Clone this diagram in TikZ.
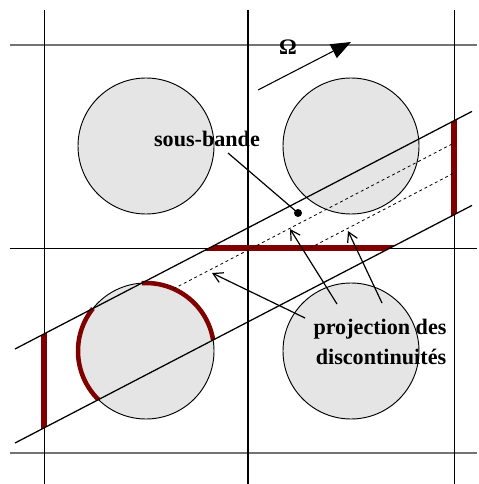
\documentclass[tikz,border=0pt]{standalone}
\usepackage{fontspec}
\setmainfont{Liberation Serif}
\usetikzlibrary{arrows.meta}
\definecolor{darkred}{RGB}{128,0,0}
\definecolor{discfill}{RGB}{229,229,229}
\begin{document}
\begin{tikzpicture}[x=0.75pt,y=-0.75pt,
  gridv/.style={line width=0.75pt,black},
  gridh/.style={line width=0.8pt,black!55},
  gridmid/.style={line width=0.75pt,black},
  disc/.style={fill=discfill,draw=black,line width=0.7pt},
  bandline/.style={line width=0.95pt,black},
  redseg/.style={line width=3.8pt,darkred},
  redarc/.style={line width=3.4pt,darkred},
  proj/.style={line width=0.6pt,dash pattern=on 2.2pt off 2.2pt},
  lab/.style={font=\fontsize{16.6pt}{20pt}\selectfont\bfseries,inner sep=0pt},
  pointer/.style={line width=0.9pt,-{Straight Barb[length=7pt,width=8pt,line width=0.9pt]}},
  omarrow/.style={line width=0.8pt,-{Triangle[length=15pt,width=11.5pt]}}
]
\useasboundingbox (0,0) rectangle (478,484);
% discs
\draw[disc] (146,146) circle[radius=51pt];
\draw[disc] (351,146) circle[radius=51pt];
\draw[disc] (146,351) circle[radius=51pt];
\draw[disc] (351,351) circle[radius=51pt];
% grid
\draw[gridh] (10,45) -- (477,45);
\draw[gridh] (10,453) -- (477,453);
\draw[gridmid] (10,248) -- (477,248);
\draw[gridv] (44,10) -- (44,484);
\draw[gridv] (454,10) -- (454,484);
\draw[line width=1.5pt] (248,10) -- (248,484);
% red discontinuities inside the band
\begin{scope}
  \clip (0,356.8) -- (478,108.24) -- (478,202.24) -- (0,450.8) -- cycle;
  \draw[redseg] (44,300) -- (44,470);
  \draw[redseg] (454,100) -- (454,230);
  \draw[redseg] (150,248) -- (420,248);
\end{scope}
\coordinate (cll) at (146,351);
\draw[redarc] ([shift={(9.3:51pt)}]cll) arc[start angle=9.3,end angle=93.6,radius=51pt];
\draw[redarc] ([shift={(141.3:51pt)}]cll) arc[start angle=141.3,end angle=225.7,radius=51pt];
% band
\coordinate (u1) at (15,349);
\coordinate (u2) at (472,111.4);
\coordinate (l1) at (15,443);
\coordinate (l2) at (472,205.4);
\draw[bandline] (u1) -- (u2);
\draw[bandline] (l1) -- (l2);
% projection lines
\coordinate (a1) at (173.5,288.8);
\coordinate (a2) at (454,143);
\coordinate (b1) at (310,248);
\coordinate (b2) at (454,173);
\draw[proj] (a1) -- (a2);
\draw[proj] (b1) -- (b2);
% Omega
\coordinate (o1) at (258,90);
\coordinate (o2) at (351,42);
\draw[omarrow] (o1) -- (o2);
\node[lab,anchor=base] (om) at (288,55) {Ω};
% sous-bande
\node[lab,anchor=base] (sb) at (207,147) {sous-bande};
\coordinate (sbs) at (228,153);
\coordinate (dot) at (298,213);
\draw[line width=0.9pt] (sbs) -- (dot);
\fill (dot) circle[radius=3pt];
% projection des discontinuites
\node[lab,anchor=base] (pj1) at (380,334) {projection des};
\node[lab,anchor=base] (pj2) at (381,364) {discontinuités};
\coordinate (t1) at (305,318);
\coordinate (h1) at (212,273);
\coordinate (t2) at (337,304);
\coordinate (h2) at (290,229);
\coordinate (t3) at (382,303);
\coordinate (h3) at (348,231);
\draw[pointer] (t1) -- (h1);
\draw[pointer] (t2) -- (h2);
\draw[pointer] (t3) -- (h3);
\end{tikzpicture}
\end{document}
